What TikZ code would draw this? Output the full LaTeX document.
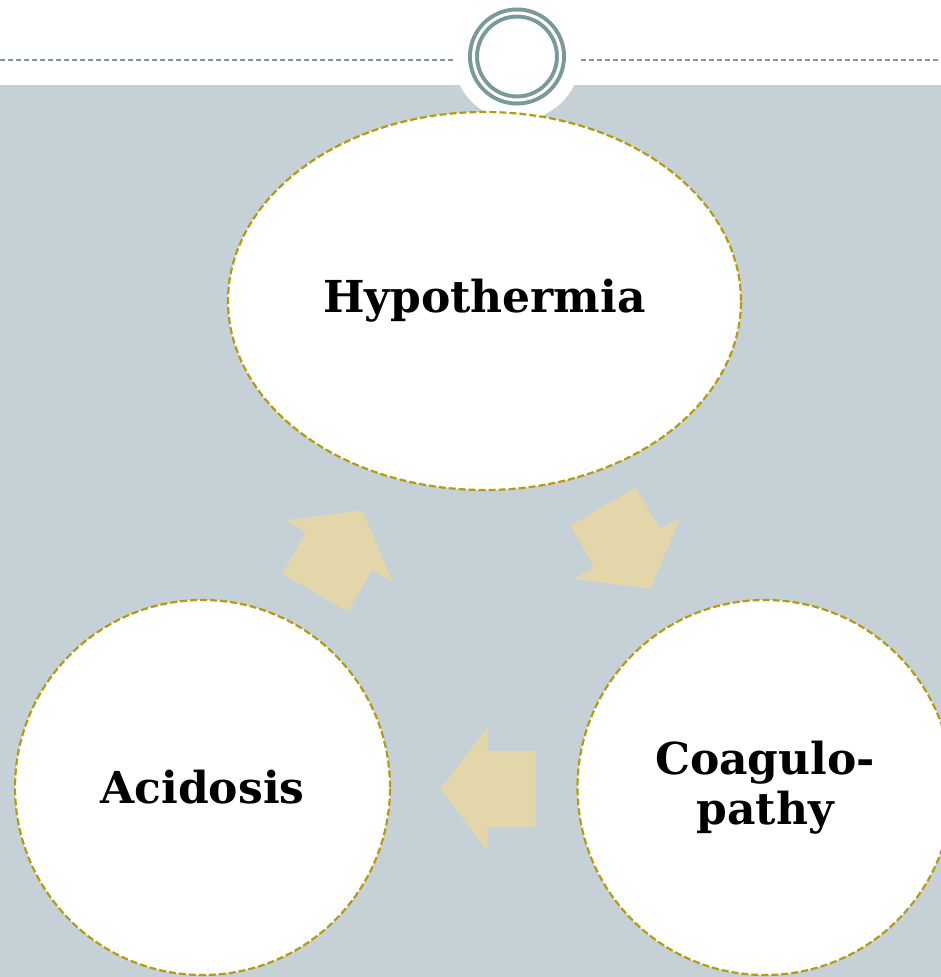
\documentclass[tikz,border=0pt]{standalone}
\usepackage{fontspec}
\setmainfont{DejaVu Serif}
\usepackage{tikz}
\usetikzlibrary{shapes.geometric}
\definecolor{panel}{RGB}{197,209,215}
\definecolor{ringgrey}{RGB}{122,153,153}
\definecolor{ochre}{RGB}{180,156,10}
\definecolor{sand}{RGB}{226,214,170}
\tikzset{
  stage/.style={draw=ochre, line width=2.2pt, dash pattern=on 7pt off 3pt,
                fill=white, inner sep=0pt, align=center,
                font={\bfseries\fontsize{44}{50}\selectfont}},
  rule/.style={ringgrey, line width=2pt, dash pattern=on 5pt off 3pt},
  pics/turn/.style={code={
    \fill[sand] (-48,-38) -- (0,-38) -- (0,-62) -- (47,0) -- (0,62) -- (0,38) -- (-48,38) -- cycle;}}
}

\begin{document}
\begin{tikzpicture}[x=1pt, y=-1pt]
  \useasboundingbox (0,0) rectangle (941,977);
  \fill[panel] (0,85) rectangle (941,977);

  \node[circle, fill=white, minimum size=128pt, inner sep=0pt] (halo) at (517,56.5) {};
  \node[circle, draw=ringgrey, line width=4pt, double=white, double distance=3pt,
        minimum size=87pt, inner sep=0pt] (ring) at (halo.center) {};
  \draw[rule] (0,60) -- (0,60 -| halo.west);
  \draw[rule] (halo.east |- 0,60) -- (941,60);

  \node[stage, ellipse, minimum width=513pt, minimum height=378pt] (hypo) at (484.5,301) {Hypothermia};
  \node[stage, circle, minimum size=375pt] (acid) at (202.5,787.5) {Acidosis};
  \node[stage, circle, minimum size=375pt] (coag) at (765,787.5) {Coagulo-\\pathy};

  \pic[rotate=60] at (339,551) {turn};
  \pic[rotate=-60] at (627,548) {turn};
  \pic[rotate=180] at (487.5,789) {turn};
\end{tikzpicture}
\end{document}
